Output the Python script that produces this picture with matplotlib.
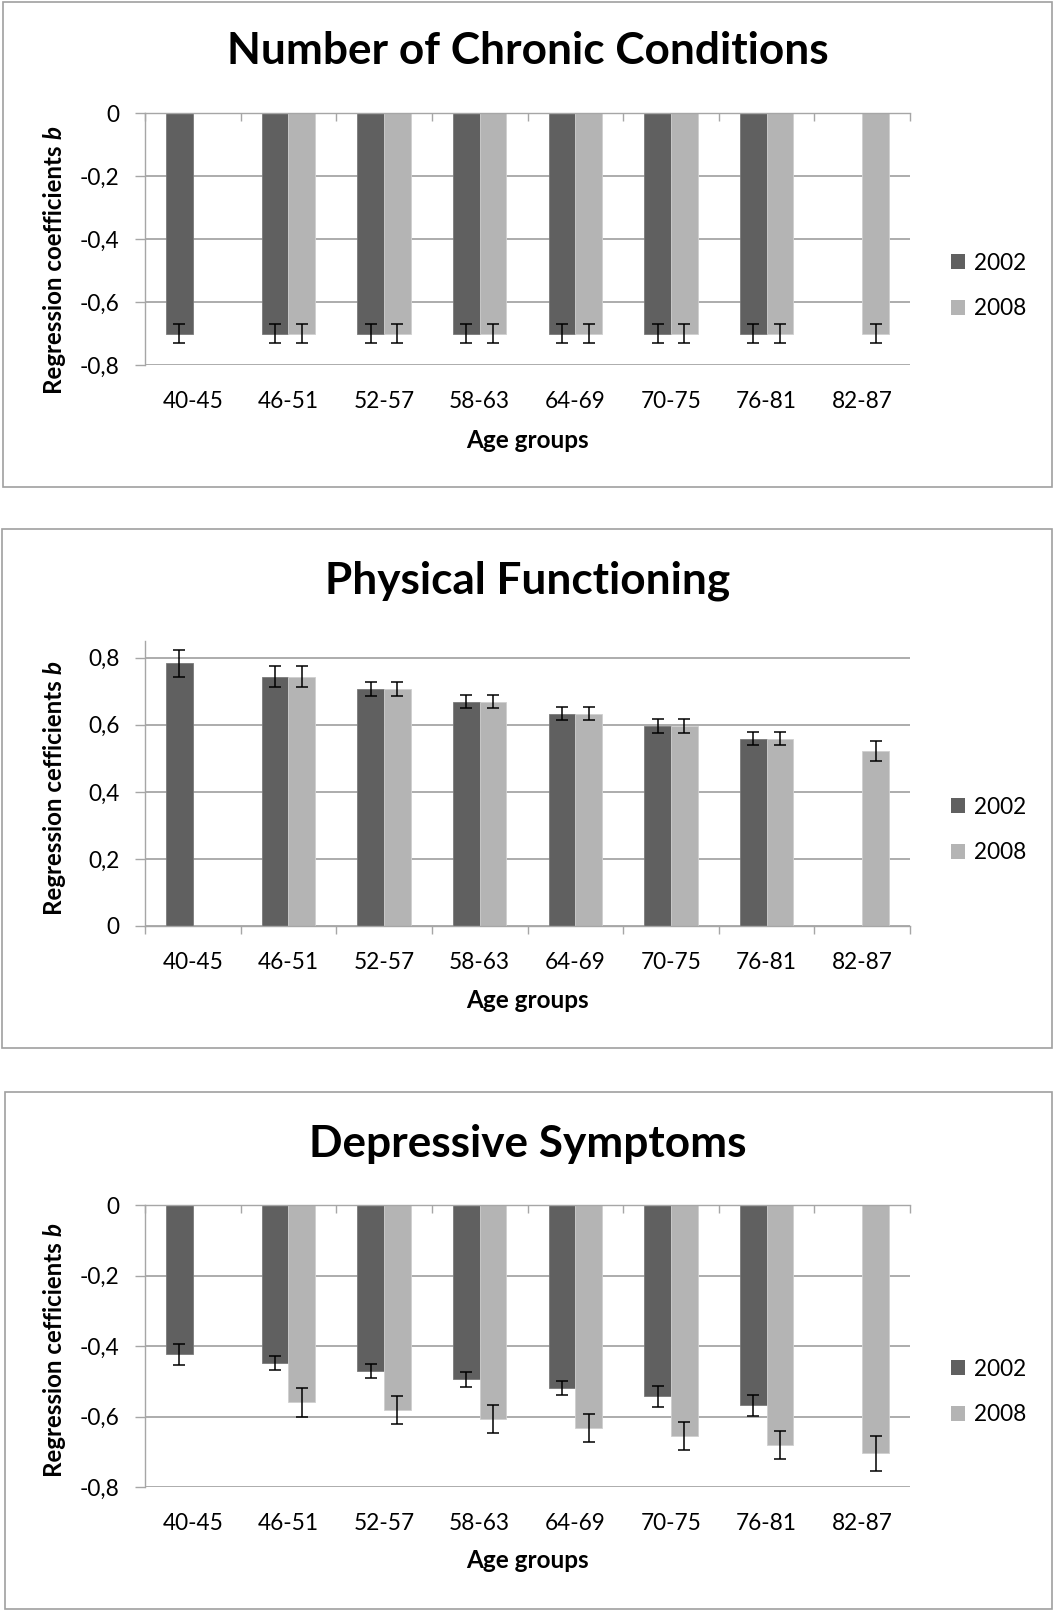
import numpy as np
import matplotlib
matplotlib.use("Agg")
import matplotlib.pyplot as plt
from matplotlib.patches import Patch, Rectangle
from matplotlib.ticker import FixedLocator, FuncFormatter

plt.rcParams["font.family"] = ["Lato", "DejaVu Sans"]

AGE_GROUPS = ["40-45", "46-51", "52-57", "58-63", "64-69", "70-75", "76-81", "82-87"]
YEARS = ["2002", "2008"]

CHRONIC_2002 = [-0.70, -0.70, -0.70, -0.70, -0.70, -0.70, -0.70, np.nan]
CHRONIC_2008 = [np.nan, -0.70, -0.70, -0.70, -0.70, -0.70, -0.70, -0.70]
CHRONIC_ERR_2002 = [0.03, 0.03, 0.03, 0.03, 0.03, 0.03, 0.03, np.nan]
CHRONIC_ERR_2008 = [np.nan, 0.03, 0.03, 0.03, 0.03, 0.03, 0.03, 0.03]

PHYSICAL_2002 = [0.783, 0.744, 0.707, 0.669, 0.633, 0.596, 0.559, np.nan]
PHYSICAL_2008 = [np.nan, 0.744, 0.707, 0.669, 0.633, 0.596, 0.559, 0.522]
PHYSICAL_ERR_2002 = [0.04, 0.03, 0.02, 0.02, 0.02, 0.02, 0.02, np.nan]
PHYSICAL_ERR_2008 = [np.nan, 0.03, 0.02, 0.02, 0.02, 0.02, 0.02, 0.03]

DEPRESSIVE_2002 = [-0.424, -0.447, -0.471, -0.495, -0.519, -0.543, -0.568, np.nan]
DEPRESSIVE_2008 = [np.nan, -0.560, -0.582, -0.607, -0.632, -0.655, -0.680, -0.704]
DEPRESSIVE_ERR_2002 = [0.03, 0.02, 0.02, 0.02, 0.02, 0.03, 0.03, np.nan]
DEPRESSIVE_ERR_2008 = [np.nan, 0.04, 0.04, 0.04, 0.04, 0.04, 0.04, 0.05]

NEG_TICKS = [0, -0.2, -0.4, -0.6, -0.8]
POS_TICKS = [0, 0.2, 0.4, 0.6, 0.8]

DARK = "#606060"
LIGHT = "#b4b4b4"
GRID = "#a6a6a6"
BORDER = "#a0a0a0"

W, H = 1055, 1611
fig = plt.figure(figsize=(W / 100, H / 100), dpi=100)
renderer = fig.canvas.get_renderer()


def fx(px):
    return px / W


def fy(py):
    return 1 - py / H


def comma(v, _pos=None):
    if abs(v) < 1e-9:
        return "0"
    return f"{v:.1f}".replace(".", ",")


def ylabel_text(label, center_y, base_x=62, size=17.4):
    # rotated label, with the coefficient symbol in bold italic
    kw = dict(rotation=90, rotation_mode="anchor", ha="left", va="baseline",
              fontsize=size, fontweight="bold")
    main = fig.text(fx(base_x), fy(center_y), label + " ", **kw)
    sym = fig.text(fx(base_x), fy(center_y), "b", style="italic", **kw)
    h_main = main.get_window_extent(renderer).height
    h_sym = sym.get_window_extent(renderer).height
    start = center_y + (h_main + h_sym) / 2
    main.set_position((fx(base_x), fy(start)))
    sym.set_position((fx(base_x), fy(start - h_main)))


def panel(title, ylabel, s2002, s2008, e2002, e2008, ticks, ylim,
          box, ax_top, ax_bottom, title_y, xlabel_y, label_y, legend_y, negative):
    # outer frame
    fig.patches.append(Rectangle((fx(box[0]), fy(box[3])), fx(box[2] - box[0]),
                                 (box[3] - box[1]) / H, transform=fig.transFigure,
                                 fill=False, edgecolor=BORDER, lw=1.2))
    left, right = 145, 910
    ax = fig.add_axes([fx(left), fy(ax_bottom), fx(right - left), (ax_bottom - ax_top) / H])
    x = np.arange(len(AGE_GROUPS))
    w = 0.28
    ax.bar(x - w / 2, s2002, w, color=DARK, edgecolor="#7a7a7a", lw=0.6, zorder=2)
    ax.bar(x + w / 2, s2008, w, color=LIGHT, edgecolor="#cfcfcf", lw=0.6, zorder=2)
    ekw = dict(fmt="none", ecolor="black", elinewidth=1.1, capsize=4.6, capthick=1.1, zorder=3)
    ax.errorbar(x - w / 2, s2002, yerr=e2002, **ekw)
    ax.errorbar(x + w / 2, s2008, yerr=e2008, **ekw)

    ax.set_xlim(-0.5, len(AGE_GROUPS) - 0.5)
    ax.set_ylim(*ylim)
    ax.set_yticks(ticks)
    ax.yaxis.set_major_formatter(FuncFormatter(comma))
    ax.yaxis.grid(True, color=GRID, lw=1.3)
    ax.set_axisbelow(True)

    ax.set_xticks(x, AGE_GROUPS)
    ax.xaxis.set_minor_locator(FixedLocator(np.arange(-0.5, len(AGE_GROUPS), 1.0)))
    for s in ax.spines.values():
        s.set_color(GRID)
        s.set_linewidth(1.0)
    ax.spines["right"].set_visible(False)
    if negative:
        ax.spines["bottom"].set_visible(False)
        ax.tick_params(axis="x", which="minor", top=True, bottom=False,
                       direction="in", length=5.5, color=GRID, width=1.0)
    else:
        ax.spines["top"].set_visible(False)
        ax.tick_params(axis="x", which="minor", bottom=True, top=False,
                       direction="out", length=5.5, color=GRID, width=1.0)
    ax.tick_params(axis="x", which="major", length=0, pad=18.5, labelsize=16.3)
    ax.tick_params(axis="y", which="major", length=7.2, width=1.0, color=GRID,
                   pad=11, labelsize=16.3)

    cx = (left + right) / 2
    fig.text(fx(cx), fy(title_y), title, ha="center", va="center",
             fontsize=31.8, fontweight="bold")
    fig.text(fx(cx), fy(xlabel_y), "Age groups", ha="center", va="center",
             fontsize=17.5, fontweight="bold")
    ylabel_text(ylabel, label_y)

    handles = [Patch(facecolor=DARK, label=YEARS[0]), Patch(facecolor=LIGHT, label=YEARS[1])]
    fig.legend(handles=handles, loc="center left", bbox_to_anchor=(fx(951), fy(legend_y)),
               frameon=False, fontsize=16.3, handlelength=0.62, handleheight=0.62,
               handletextpad=0.4, labelspacing=1.1, borderpad=0, borderaxespad=0)
    return ax


panel("Number of Chronic Conditions", "Regression coefficients",
      CHRONIC_2002, CHRONIC_2008, CHRONIC_ERR_2002, CHRONIC_ERR_2008,
      NEG_TICKS, (-0.8, 0), box=(3, 2, 1052, 487), ax_top=113, ax_bottom=365,
      title_y=51, xlabel_y=440, label_y=260, legend_y=286, negative=True)

panel("Physical Functioning", "Regression cefficients",
      PHYSICAL_2002, PHYSICAL_2008, PHYSICAL_ERR_2002, PHYSICAL_ERR_2008,
      POS_TICKS, (0, 0.85), box=(2, 529, 1052, 1048), ax_top=641, ax_bottom=926,
      title_y=581, xlabel_y=1001, label_y=788, legend_y=830, negative=False)

panel("Depressive Symptoms", "Regression cefficients",
      DEPRESSIVE_2002, DEPRESSIVE_2008, DEPRESSIVE_ERR_2002, DEPRESSIVE_ERR_2008,
      NEG_TICKS, (-0.8, 0), box=(5, 1092, 1052, 1609), ax_top=1205, ax_bottom=1487,
      title_y=1144, xlabel_y=1561, label_y=1350, legend_y=1392, negative=True)

fig.savefig("out.png", dpi=100, facecolor="white")
